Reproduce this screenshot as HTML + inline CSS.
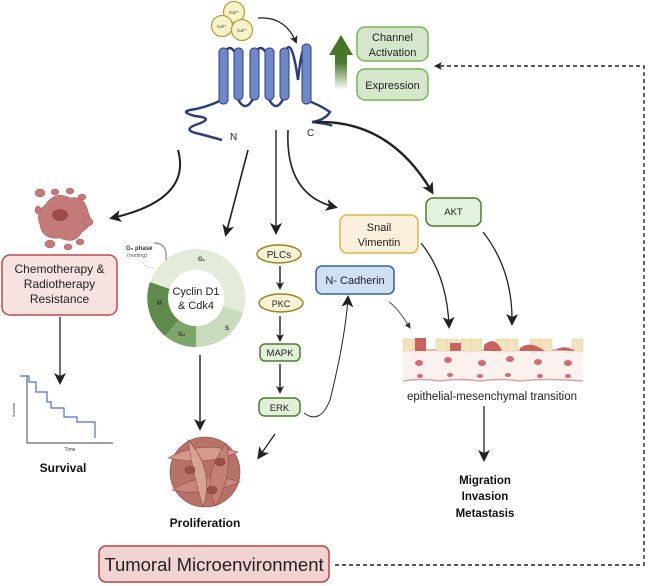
<!DOCTYPE html>
<html><head><meta charset="utf-8"><style>
body{margin:0;background:#fff}
svg{display:block;font-family:"Liberation Sans",sans-serif}
</style></head><body>
<svg width="649" height="586" viewBox="0 0 649 586" xmlns="http://www.w3.org/2000/svg">
<defs>
<marker id="a" markerWidth="8" markerHeight="8" refX="6" refY="4" orient="auto" markerUnits="userSpaceOnUse"><path d="M0,0 L8,4 L0,8 L2,4z" fill="#222"/></marker>
<marker id="b" markerWidth="12" markerHeight="12" refX="9" refY="6" orient="auto" markerUnits="userSpaceOnUse"><path d="M0,0 L12,6 L0,12 L3,6z" fill="#222"/></marker>
<marker id="s" markerWidth="6" markerHeight="6" refX="5" refY="3" orient="auto" markerUnits="userSpaceOnUse"><path d="M0,0 L6,3 L0,6z" fill="#333"/></marker>
<linearGradient id="g" x1="0" y1="1" x2="0" y2="0"><stop offset="0" stop-color="#4a7a2c" stop-opacity="0"/><stop offset="0.5" stop-color="#4a7a2c"/><stop offset="1" stop-color="#40701f"/></linearGradient>
</defs>

<!-- Ca -->
<g fill="#f7f2c8" stroke="#b59a3a" stroke-width="1.2">
<circle cx="234" cy="12" r="10.5"/><circle cx="222" cy="26" r="10.5"/><circle cx="242" cy="30" r="10.5"/></g>
<g font-size="4.5" fill="#333" text-anchor="middle"><text x="234" y="14">Ca²⁺</text><text x="222" y="28">Ca²⁺</text><text x="242" y="32">Ca²⁺</text></g>
<path d="M258,18 Q285,16 296,42" fill="none" stroke="#222" stroke-width="1.3" marker-end="url(#a)"/>

<!-- protein -->
<g fill="none" stroke="#2c3f7a" stroke-width="2.5">
<path d="M224,56 Q229,40 237,56"/><path d="M254,56 Q260,40 268,56"/><path d="M284,56 Q291,30 298,80 Q303,35 306,56"/>
<path d="M237,97 Q245,115 254,97"/><path d="M268,97 Q276,115 284,97"/>
<path d="M222,100 Q205,108 190,110 Q180,112 195,116 Q215,118 198,124 Q180,130 200,134 Q215,138 222,140"/>
<path d="M306,100 Q320,105 330,112 Q325,120 312,122 Q330,124 332,126"/>
</g>
<g fill="#6f86c8" stroke="#2c3f7a" stroke-width="1">
<rect x="219" y="48" width="9" height="56" rx="4"/><rect x="234" y="48" width="9" height="52" rx="4"/>
<rect x="250" y="48" width="9" height="52" rx="4"/><rect x="265" y="48" width="9" height="52" rx="4"/>
<rect x="280" y="48" width="9" height="52" rx="4"/><rect x="302" y="44" width="9" height="60" rx="4"/>
</g>
<text x="230" y="140" font-size="10" fill="#222">N</text><text x="307" y="136" font-size="10" fill="#222">C</text>

<!-- green arrow + boxes -->
<path d="M335,90 L335,55 L329,55 L341,35 L353,55 L347,55 L347,90z" fill="url(#g)"/>
<rect x="357" y="27" width="71" height="34" rx="8" fill="#d5e6cc" stroke="#7ab453" stroke-width="1.5"/>
<text x="392.5" y="41" font-size="11" text-anchor="middle" fill="#222">Channel</text>
<text x="392.5" y="56" font-size="11" text-anchor="middle" fill="#222">Activation</text>
<rect x="357" y="69" width="71" height="31" rx="8" fill="#d5e6cc" stroke="#7ab453" stroke-width="1.5"/>
<text x="392.5" y="89" font-size="11" text-anchor="middle" fill="#222">Expression</text>

<!-- dashed feedback -->
<path d="M335,565 L644,565 L644,66 L436,66" fill="none" stroke="#222" stroke-width="1.4" stroke-dasharray="4,3" marker-end="url(#a)"/>

<!-- tumor cluster -->
<g fill="#c57a7a" stroke="#a55b5b" stroke-width="0.5">
<path d="M45,205 Q55,190 70,198 Q85,195 88,212 Q95,225 82,232 Q75,245 60,238 Q42,240 40,225 Q35,212 45,205z"/>
<ellipse cx="40" cy="193" rx="5" ry="4"/><ellipse cx="55" cy="192" rx="4" ry="3"/><ellipse cx="70" cy="191" rx="4" ry="3"/><ellipse cx="82" cy="197" rx="4" ry="3"/>
<ellipse cx="38" cy="210" rx="3" ry="4"/><ellipse cx="88" cy="222" rx="5" ry="4"/><ellipse cx="80" cy="242" rx="4" ry="3"/><ellipse cx="50" cy="244" rx="5" ry="4"/><ellipse cx="68" cy="247" rx="4" ry="3"/>
</g>
<ellipse cx="60" cy="215" rx="8" ry="6" fill="#a04a4a"/>
<path d="M178,150 Q192,200 112,218" fill="none" stroke="#222" stroke-width="2" marker-end="url(#b)"/>

<rect x="2" y="255" width="115" height="60" rx="8" fill="#f6e3e1" stroke="#bf4a4a" stroke-width="1.5"/>
<g font-size="12" fill="#222" text-anchor="middle"><text x="59.5" y="273">Chemotherapy &amp;</text><text x="59.5" y="288">Radiotherapy</text><text x="59.5" y="303">Resistance</text></g>
<line x1="60" y1="317" x2="60" y2="382" stroke="#222" stroke-width="1.3" marker-end="url(#b)"/>

<!-- survival plot -->
<path d="M27,376 L27,443 L113,443" fill="none" stroke="#444" stroke-width="1"/>
<path d="M20,376 L29,376 L29,382 L36,382 L36,392 L47,392 L47,402 L51,402 L51,408 L64,408 L64,417 L77,417 L77,422 L95,422 L95,438" fill="none" stroke="#4a6fd0" stroke-width="1.2"/>
<text x="70" y="451" font-size="5" text-anchor="middle" fill="#333">Time</text>
<text x="15" y="410" font-size="4" fill="#333" transform="rotate(-90 15 410)" text-anchor="middle">Survival</text>
<text x="63" y="472" font-size="12" font-weight="bold" text-anchor="middle" fill="#111">Survival</text>

<!-- cell cycle -->
<g transform="translate(196,298)">
<path d="M0,-49 A49,49 0 0 1 47,15 L27,8 A28,28 0 0 0 0,-28z" fill="#e3ecd9"/>
<path d="M47,15 A49,49 0 0 1 0,49 L0,28 A28,28 0 0 0 27,8z" fill="#c9dbbd"/>
<path d="M0,49 A49,49 0 0 1 -31,38 L-17,22 A28,28 0 0 0 0,28z" fill="#7fa66a"/>
<path d="M-31,38 A49,49 0 0 1 -46,-16 L-26,-9 A28,28 0 0 0 -17,22z" fill="#5f8a4c"/>
<path d="M-46,-16 A49,49 0 0 1 0,-49 L0,-28 A28,28 0 0 0 -26,-9z" fill="#e3ecd9"/>
<circle r="28" fill="#fff"/>
<text x="0" y="-3" font-size="11" text-anchor="middle" fill="#222">Cyclin D1</text>
<text x="0" y="11" font-size="11" text-anchor="middle" fill="#222">&amp; Cdk4</text>
<text x="2" y="-37" font-size="6" font-weight="bold" fill="#333">G₁</text>
<text x="29" y="32" font-size="6" font-weight="bold" fill="#333">S</text>
<text x="-18" y="38" font-size="6" font-weight="bold" fill="#333">G₂</text>
<text x="-39" y="7" font-size="6" font-weight="bold" fill="#333">M</text>
</g>
<text x="126" y="250" font-size="6" font-weight="bold" fill="#333">G₀ phase</text>
<text x="127" y="257" font-size="5.5" fill="#555">(resting)</text>
<path d="M154,243 Q168,243 166,260" fill="none" stroke="#999" stroke-width="1.5"/>
<path d="M142,262 Q146,268 154,268" fill="none" stroke="#999" stroke-width="0.6" stroke-dasharray="2,2"/>

<path d="M248,150 L226,234" fill="none" stroke="#222" stroke-width="1.6" marker-end="url(#b)"/>
<line x1="200" y1="355" x2="200" y2="428" stroke="#222" stroke-width="1.4" marker-end="url(#b)"/>

<!-- pathway -->
<line x1="276" y1="130" x2="276" y2="232" stroke="#222" stroke-width="1.4" marker-end="url(#b)"/>
<ellipse cx="279" cy="254" rx="22" ry="9" fill="#faf4d6" stroke="#9a8225" stroke-width="1.5"/>
<text x="279" y="258" font-size="10" text-anchor="middle" fill="#222">PLCs</text>
<line x1="280" y1="266" x2="280" y2="288" stroke="#222" stroke-width="1.4" marker-end="url(#a)"/>
<ellipse cx="281" cy="303" rx="22" ry="9" fill="#faf4d6" stroke="#9a8225" stroke-width="1.5"/>
<text x="281" y="307" font-size="9" text-anchor="middle" fill="#222">PKC</text>
<line x1="280" y1="316" x2="280" y2="340" stroke="#222" stroke-width="1.4" marker-end="url(#a)"/>
<rect x="260" y="344" width="40" height="17" rx="5" fill="#e3f0d8" stroke="#4f7a30" stroke-width="1.5"/>
<text x="280" y="356" font-size="9.5" text-anchor="middle" fill="#222">MAPK</text>
<line x1="280" y1="364" x2="280" y2="392" stroke="#222" stroke-width="1.4" marker-end="url(#a)"/>
<rect x="259" y="398" width="41" height="18" rx="6" fill="#e3f0d8" stroke="#4f7a30" stroke-width="1.5"/>
<text x="279.5" y="411" font-size="9.5" text-anchor="middle" fill="#222">ERK</text>
<path d="M275,434 L259,457" fill="none" stroke="#222" stroke-width="1.3" marker-end="url(#b)"/>
<path d="M304,413 Q320,425 330,400 Q345,340 348,298" fill="none" stroke="#222" stroke-width="1" marker-end="url(#b)"/>

<!-- proliferation cells -->
<g stroke="#8b4a45" stroke-width="0.6">
<circle cx="205" cy="472" r="35" fill="#b77268"/>
<path d="M168,458 Q200,440 238,452 Q210,466 168,458z" fill="#d49a8e"/>
<path d="M172,490 Q205,470 240,482 Q205,497 172,490z" fill="#c9877b"/>
<path d="M188,440 Q215,470 203,507 Q193,475 188,440z" fill="#d8a397"/>
<path d="M226,443 Q200,480 216,506 Q234,470 226,443z" fill="#c48075"/>
<ellipse cx="190" cy="470" rx="5" ry="4" fill="#9a5048"/><ellipse cx="220" cy="462" rx="5" ry="4" fill="#9a5048"/><ellipse cx="212" cy="490" rx="5" ry="4" fill="#9a5048"/>
</g>
<text x="205" y="527" font-size="12" font-weight="bold" text-anchor="middle" fill="#111">Proliferation</text>

<!-- right branch -->
<path d="M288,130 Q285,195 335,207" fill="none" stroke="#222" stroke-width="1.6" marker-end="url(#b)"/>
<path d="M316,122 Q390,120 432,192" fill="none" stroke="#222" stroke-width="2.4" marker-end="url(#b)"/>
<rect x="340" y="215" width="78" height="38" rx="7" fill="#fbf0dc" stroke="#e4b34a" stroke-width="1.5"/>
<text x="379" y="231" font-size="11" text-anchor="middle" fill="#222">Snail</text>
<text x="379" y="246" font-size="11" text-anchor="middle" fill="#222">Vimentin</text>
<rect x="426" y="198" width="55" height="28" rx="7" fill="#e3f2dc" stroke="#4f7a30" stroke-width="1.5"/>
<text x="453.5" y="215" font-size="9.5" text-anchor="middle" fill="#222">AKT</text>
<rect x="316" y="266" width="78" height="28" rx="6" fill="#cfe0f5" stroke="#3a5ea0" stroke-width="1.5"/>
<text x="355" y="284" font-size="11" text-anchor="middle" fill="#222">N- Cadherin</text>
<path d="M421,243 Q447,275 449,326" fill="none" stroke="#222" stroke-width="1.3" marker-end="url(#b)"/>
<path d="M483,232 Q513,270 512,323" fill="none" stroke="#222" stroke-width="1.3" marker-end="url(#b)"/>
<path d="M389,302 Q398,308 410,328" fill="none" stroke="#333" stroke-width="0.8" marker-end="url(#s)"/>

<!-- EMT -->
<rect x="403" y="350" width="180" height="30" fill="#fbf1ee"/>
<path d="M403,350 L583,350" stroke="#d9a3a3" stroke-width="1.5"/>
<path d="M403,381 Q420,378 440,381 Q460,378 480,381 Q500,378 520,381 Q545,378 583,381" fill="none" stroke="#d9a3a3" stroke-width="1.5"/>
<g fill="#f3e3bd" stroke="#e0caa0" stroke-width="0.5">
<rect x="403" y="339" width="11" height="12"/><rect x="414" y="339" width="11" height="12"/><rect x="436" y="339" width="11" height="12"/><rect x="447" y="339" width="11" height="12"/>
<rect x="460" y="339" width="11" height="12"/><rect x="471" y="339" width="11" height="12"/><rect x="496" y="339" width="11" height="12"/><rect x="507" y="339" width="11" height="12"/>
<rect x="530" y="339" width="11" height="12"/><rect x="541" y="339" width="11" height="12"/><rect x="572" y="339" width="11" height="12"/>
</g>
<g fill="#c8625f"><rect x="415" y="338" width="11" height="13"/><rect x="450" y="343" width="11" height="8"/><path d="M484,345 Q495,335 502,351 L484,351z"/><path d="M520,348 Q530,340 545,351 L520,351z"/><path d="M555,350 Q565,344 575,351z"/></g>
<g fill="#d26b72"><ellipse cx="419" cy="363" rx="4" ry="3"/><ellipse cx="448" cy="360" rx="4" ry="3"/><ellipse cx="482" cy="363" rx="4" ry="3"/><ellipse cx="510" cy="359" rx="4" ry="3"/><ellipse cx="538" cy="362" rx="4" ry="3"/><ellipse cx="568" cy="363" rx="4" ry="3"/>
<ellipse cx="420" cy="376" rx="3" ry="2"/><ellipse cx="450" cy="375" rx="3" ry="2"/><ellipse cx="480" cy="376" rx="3" ry="2"/><ellipse cx="508" cy="375" rx="3" ry="2"/><ellipse cx="540" cy="376" rx="3" ry="2"/><ellipse cx="568" cy="376" rx="3" ry="2"/></g>
<text x="492" y="400" font-size="11.5" text-anchor="middle" fill="#222">epithelial-mesenchymal transition</text>
<line x1="484" y1="406" x2="484" y2="459" stroke="#222" stroke-width="1.3" marker-end="url(#b)"/>
<g font-size="11.5" font-weight="bold" text-anchor="middle" fill="#111"><text x="485" y="484">Migration</text><text x="485" y="500">Invasion</text><text x="485" y="517">Metastasis</text></g>

<rect x="99" y="546" width="230" height="36" rx="7" fill="#f1d3d1" stroke="#bf4040" stroke-width="1.5"/>
<text x="214" y="571" font-size="18.5" text-anchor="middle" fill="#222">Tumoral Microenvironment</text>
</svg>
</body></html>
